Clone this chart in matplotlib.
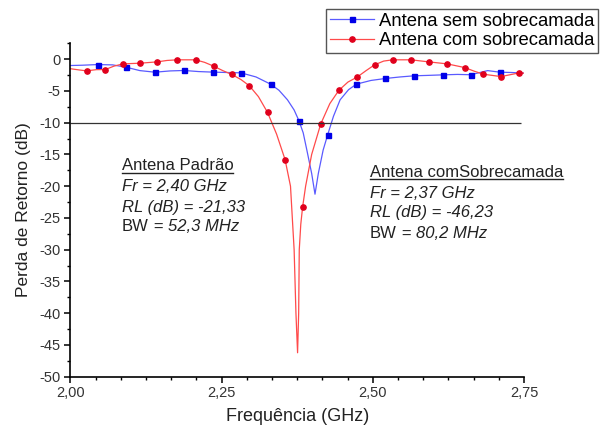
import matplotlib
matplotlib.use('Agg')
import matplotlib.pyplot as plt
from matplotlib.ticker import MultipleLocator, AutoMinorLocator, FuncFormatter
from matplotlib.lines import Line2D

plt.rcParams['font.family'] = ['Liberation Sans', 'DejaVu Sans']
plt.rcParams['axes.unicode_minus'] = False

# Antena sem sobrecamada - line points (GHz, dB)
freq_sem = [2.000, 2.020, 2.045, 2.070, 2.092, 2.115, 2.140, 2.165, 2.188, 2.212,
            2.236, 2.260, 2.282, 2.307, 2.331, 2.345, 2.359, 2.370, 2.378, 2.385,
            2.391, 2.399, 2.4045, 2.410, 2.418, 2.4255, 2.435, 2.446, 2.460, 2.473,
            2.497, 2.521, 2.545, 2.568, 2.592, 2.6155, 2.640, 2.662, 2.690, 2.710,
            2.730, 2.750]
db_sem = [-1.0, -0.95, -0.85, -0.9, -1.26, -1.8, -2.05, -1.85, -1.78, -1.95,
          -2.04, -2.1, -2.15, -2.8, -3.93, -4.9, -6.4, -8.0, -9.7, -11.6,
          -14.3, -18.0, -21.26, -18.0, -14.3, -11.9, -9.0, -6.4, -4.8, -3.93,
          -3.35, -3.04, -2.8, -2.62, -2.55, -2.47, -2.4, -2.45, -1.8, -2.05,
          -2.1, -2.2]
# symbols drawn on that curve
mark_freq_sem = [2.045, 2.092, 2.140, 2.188, 2.236, 2.282, 2.331, 2.378, 2.4255,
                 2.473, 2.521, 2.568, 2.6155, 2.662, 2.710]
mark_db_sem = [-0.85, -1.26, -2.05, -1.78, -2.04, -2.15, -3.93, -9.7, -11.9,
               -3.93, -3.04, -2.62, -2.47, -2.45, -2.05]

# Antena com sobrecamada
freq_com = [2.000, 2.015, 2.027, 2.043, 2.058, 2.072, 2.087, 2.116, 2.144, 2.160,
            2.177, 2.207, 2.222, 2.237, 2.252, 2.267, 2.282, 2.296, 2.311, 2.326,
            2.341, 2.355, 2.364, 2.370, 2.373, 2.3757, 2.3775, 2.3785, 2.381, 2.384,
            2.389, 2.399, 2.414, 2.429, 2.444, 2.459, 2.474, 2.489, 2.503, 2.518,
            2.533, 2.563, 2.593, 2.623, 2.652, 2.668, 2.683, 2.712, 2.742, 2.750]
db_com = [-1.5, -1.7, -1.84, -1.65, -1.63, -1.1, -0.74, -0.63, -0.42, -0.2,
          -0.10, -0.10, -0.5, -1.10, -1.8, -2.41, -3.2, -4.19, -5.9, -8.38,
          -11.8, -15.8, -20.0, -30.0, -40.0, -46.23, -40.0, -30.0, -26.0, -23.3,
          -20.0, -15.0, -10.2, -7.0, -4.9, -3.6, -2.83, -1.8, -0.89, -0.3,
          -0.10, -0.10, -0.43, -0.74, -1.32, -1.9, -2.37, -2.74, -2.16, -2.2]
mark_freq_com = [2.027, 2.058, 2.087, 2.116, 2.144, 2.177, 2.207, 2.237, 2.267,
                 2.296, 2.326, 2.355, 2.384, 2.414, 2.444, 2.474, 2.503, 2.533,
                 2.563, 2.593, 2.623, 2.652, 2.683, 2.712, 2.742]
mark_db_com = [-1.84, -1.63, -0.74, -0.63, -0.42, -0.10, -0.10, -1.10, -2.41,
               -4.19, -8.38, -15.8, -23.3, -10.2, -4.9, -2.83, -0.89, -0.10,
               -0.10, -0.43, -0.74, -1.32, -2.37, -2.74, -2.16]

labels = ['Antena sem sobrecamada', 'Antena com sobrecamada']

blue_line, blue_mark = '#5a5aff', '#0000e8'
red_line, red_mark = '#ff4a4a', '#e0001c'

W, H = 604, 432
fig = plt.figure(figsize=(W / 100, H / 100), dpi=100)
ax = fig.add_axes([70.3 / W, 1 - 376.7 / H, (524 - 70.3) / W, (376.7 - 43.3) / H])

ax.plot(freq_sem, db_sem, color=blue_line, lw=0.9)
ax.plot(mark_freq_sem, mark_db_sem, ls='none', marker='s', ms=3.6, color=blue_mark)
ax.plot(freq_com, db_com, color=red_line, lw=0.9)
ax.plot(mark_freq_com, mark_db_com, ls='none', marker='o', ms=3.8, color=red_mark)
ax.hlines(-10, 2.0, 2.745, color='#333333', lw=0.9)

ax.set_xlim(2.0, 2.75)
ax.set_ylim(-50, 2.5)
for s in ['top', 'right']:
    ax.spines[s].set_visible(False)
for s in ['left', 'bottom']:
    ax.spines[s].set_linewidth(1.2)
ax.xaxis.set_major_locator(MultipleLocator(0.25))
ax.xaxis.set_minor_locator(AutoMinorLocator(6))
ax.yaxis.set_major_locator(MultipleLocator(5))
ax.yaxis.set_minor_locator(AutoMinorLocator(2))
ax.xaxis.set_major_formatter(FuncFormatter(lambda v, p: f'{v:.2f}'.replace('.', ',')))
ax.yaxis.set_major_formatter(FuncFormatter(lambda v, p: f'{int(round(v))}'))
ax.tick_params(which='major', direction='out', length=4.5, width=1.1, labelsize=10.5,
               labelcolor='#333333', pad=2.5)
ax.tick_params(which='minor', direction='out', length=2.5, width=1.0)

ax.set_xlabel('Frequência (GHz)', fontsize=13, color='#222222')
ax.set_ylabel('Perda de Retorno (dB)', fontsize=12.5, color='#222222')
ax.xaxis.set_label_coords(0.5, -(408 - 376.7) / (376.7 - 43.3))
ax.yaxis.set_label_coords(-(70.3 - 31) / (524 - 70.3), 0.5)

handles = [Line2D([], [], color=blue_line, lw=0.9, marker='s', ms=3.6,
                  mfc=blue_mark, mec=blue_mark),
           Line2D([], [], color=red_line, lw=0.9, marker='o', ms=3.8,
                  mfc=red_mark, mec=red_mark)]
leg = fig.legend(handles, labels, loc='upper left', bbox_to_anchor=(326 / W, 1 - 9 / H),
                 fontsize=13.3, frameon=True, fancybox=False, edgecolor='#555555',
                 framealpha=1, borderpad=0.2, labelspacing=0.15, handlelength=2.4,
                 handletextpad=0.25, borderaxespad=0)
leg.get_frame().set_linewidth(1.0)


def fx(px):
    return px / W


def fy(py):
    return 1 - py / H


txt_kw = dict(fontsize=12, color='#222222', va='center', ha='left')

# left annotation block
t1 = fig.text(fx(121.7), fy(165.7), 'Antena Padrão', **txt_kw)
fig.text(fx(121.7), fy(186.7), 'Fr = 2,40 GHz', style='italic', **txt_kw)
fig.text(fx(121.7), fy(207), 'RL (dB) = -21,33', style='italic', **txt_kw)
bw1 = fig.text(fx(121.7), fy(226.7), 'BW', **txt_kw)

# right annotation block
t2 = fig.text(fx(370), fy(172.7), 'Antena comSobrecamada', **txt_kw)
fig.text(fx(370), fy(193), 'Fr = 2,37 GHz', style='italic', **txt_kw)
fig.text(fx(370), fy(213), 'RL (dB) = -46,23', style='italic', **txt_kw)
bw2 = fig.text(fx(370), fy(233), 'BW', **txt_kw)

fig.canvas.draw()
r = fig.canvas.get_renderer()
fig_w_px = fig.dpi * fig.get_figwidth()
for bw, py, s in [(bw1, 226.7, ' = 52,3 MHz'), (bw2, 233, ' = 80,2 MHz')]:
    bb = bw.get_window_extent(r)
    fig.text(bb.x1 / fig_w_px, fy(py), s, style='italic', **txt_kw)

# underline the block titles
for t, py in [(t1, 172.7), (t2, 179.3)]:
    bb = t.get_window_extent(r)
    fig.add_artist(Line2D([bb.x0 / fig_w_px, bb.x1 / fig_w_px], [fy(py), fy(py)],
                          color='#222222', lw=1.0))

fig.savefig('out.png', dpi=100)
